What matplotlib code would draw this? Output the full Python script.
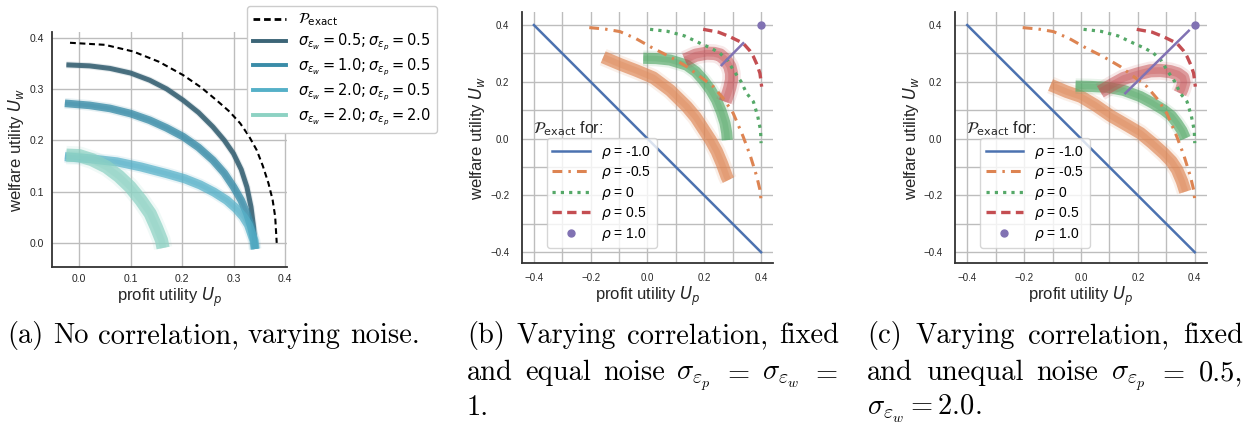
# ================================
# 1. IMPORT
# ================================
import matplotlib
matplotlib.use("Agg")
import matplotlib.pyplot as plt
from matplotlib.lines import Line2D
from matplotlib.ticker import MultipleLocator

plt.rcParams['font.family'] = ['Liberation Sans', 'DejaVu Sans']
plt.rcParams['mathtext.fontset'] = 'dejavusans'

# ================================
# 2. DATA
# ================================
# --- panel (a): no correlation, varying noise ---
exact_a_x = [-0.018, 0.05, 0.105, 0.155, 0.202, 0.237, 0.267, 0.292, 0.313, 0.33, 0.345, 0.357, 0.368, 0.376, 0.381, 0.384]
exact_a_y = [0.390, 0.386, 0.373, 0.353, 0.327, 0.303, 0.278, 0.256, 0.233, 0.208, 0.181, 0.150, 0.116, 0.084, 0.051, 0.0]

s05_05_x = [-0.025, 0.02, 0.06, 0.10, 0.137, 0.17, 0.202, 0.232, 0.26, 0.282, 0.30, 0.315, 0.326, 0.334, 0.339, 0.342]
s05_05_y = [0.347, 0.345, 0.340, 0.331, 0.317, 0.300, 0.278, 0.254, 0.226, 0.200, 0.174, 0.143, 0.109, 0.070, 0.031, -0.011]

s10_05_x = [-0.028, 0.02, 0.06, 0.10, 0.137, 0.17, 0.202, 0.232, 0.26, 0.282, 0.30, 0.315, 0.326, 0.334, 0.339, 0.342]
s10_05_y = [0.272, 0.268, 0.262, 0.252, 0.239, 0.224, 0.207, 0.186, 0.161, 0.136, 0.109, 0.083, 0.057, 0.031, 0.008, -0.012]

s20_05_x = [-0.028, 0.02, 0.073, 0.12, 0.17, 0.205, 0.235, 0.262, 0.287, 0.305, 0.319, 0.329, 0.335, 0.340, 0.342]
s20_05_y = [0.168, 0.164, 0.158, 0.148, 0.135, 0.125, 0.113, 0.099, 0.083, 0.067, 0.051, 0.035, 0.018, 0.004, -0.012]

s20_20_x = [-0.025, 0.0, 0.025, 0.053, 0.077, 0.099, 0.12, 0.138, 0.150, 0.160, 0.163]
s20_20_y = [0.171, 0.170, 0.162, 0.148, 0.130, 0.109, 0.083, 0.057, 0.030, 0.005, -0.010]

labels_a = [r"$\sigma_{\varepsilon_w} = 0.5; \sigma_{\varepsilon_p} = 0.5$",
            r"$\sigma_{\varepsilon_w} = 1.0; \sigma_{\varepsilon_p} = 0.5$",
            r"$\sigma_{\varepsilon_w} = 2.0; \sigma_{\varepsilon_p} = 0.5$",
            r"$\sigma_{\varepsilon_w} = 2.0; \sigma_{\varepsilon_p} = 2.0$"]

# --- exact frontiers for panels (b) and (c) ---
rho_m10_x = [-0.4, 0.4]
rho_m10_y = [0.4, -0.4]

rho_m05_x = [-0.205, -0.15, -0.097, -0.04, 0.020, 0.08, 0.138, 0.19, 0.232, 0.27, 0.302, 0.337, 0.362, 0.385, 0.396, 0.40]
rho_m05_y = [0.391, 0.386, 0.377, 0.352, 0.318, 0.288, 0.254, 0.215, 0.183, 0.138, 0.089, 0.007, -0.06, -0.134, -0.18, -0.216]

rho_0_x = [0.009, 0.07, 0.13, 0.185, 0.225, 0.255, 0.282, 0.302, 0.33, 0.349, 0.373, 0.388, 0.398, 0.40]
rho_0_y = [0.385, 0.378, 0.362, 0.336, 0.318, 0.301, 0.275, 0.242, 0.200, 0.160, 0.130, 0.080, 0.030, -0.016]

rho_05_x = [0.196, 0.25, 0.29, 0.337, 0.36, 0.373, 0.386, 0.396, 0.40, 0.402]
rho_05_y = [0.385, 0.375, 0.359, 0.336, 0.31, 0.289, 0.26, 0.230, 0.20, 0.183]

rho_10_x = [0.4]
rho_10_y = [0.4]

rho_labels = ["$\\rho$ = -1.0", "$\\rho$ = -0.5", "$\\rho$ = 0", "$\\rho$ = 0.5", "$\\rho$ = 1.0"]

# --- panel (b): equal noise ---
b_orange_x = [-0.156, -0.097, -0.04, 0.02, 0.08, 0.138, 0.17, 0.196, 0.222, 0.244, 0.263, 0.279, 0.285]
b_orange_y = [0.287, 0.262, 0.24, 0.215, 0.17, 0.113, 0.075, 0.035, -0.005, -0.045, -0.09, -0.134, -0.146]
b_green_x = [-0.015, 0.03, 0.079, 0.138, 0.17, 0.196, 0.222, 0.243, 0.26, 0.273, 0.279, 0.281]
b_green_y = [0.283, 0.282, 0.277, 0.259, 0.236, 0.207, 0.172, 0.136, 0.095, 0.054, 0.02, -0.005]
b_red_x = [0.132, 0.17, 0.208, 0.235, 0.255, 0.275, 0.29, 0.296, 0.296, 0.29, 0.284, 0.273]
b_red_y = [0.277, 0.294, 0.301, 0.300, 0.295, 0.278, 0.254, 0.230, 0.207, 0.180, 0.160, 0.130]
b_purple_x = [0.261, 0.337]
b_purple_y = [0.259, 0.336]

# --- panel (c): unequal noise ---
c_orange_x = [-0.107, -0.05, 0.0, 0.05, 0.105, 0.16, 0.209, 0.25, 0.291, 0.318, 0.338, 0.355, 0.367]
c_orange_y = [0.189, 0.165, 0.148, 0.118, 0.08, 0.048, 0.019, -0.015, -0.052, -0.08, -0.110, -0.15, -0.187]
c_green_x = [-0.019, 0.03, 0.092, 0.15, 0.209, 0.25, 0.291, 0.318, 0.338, 0.355, 0.367]
c_green_y = [0.185, 0.184, 0.181, 0.17, 0.148, 0.126, 0.101, 0.08, 0.054, 0.028, 0.001]
c_red_x = [0.068, 0.11, 0.15, 0.2, 0.244, 0.28, 0.314, 0.34, 0.358, 0.362, 0.355, 0.348]
c_red_y = [0.165, 0.19, 0.212, 0.228, 0.239, 0.24, 0.236, 0.228, 0.215, 0.198, 0.175, 0.16]
c_purple_x = [0.156, 0.379]
c_purple_y = [0.160, 0.380]

# caption lines, split into words (justified lines get spread to full width)
cap_a = [["(a)", "No", "correlation,", "varying", "noise."]]
cap_b = [["(b)", "Varying", "correlation,", "fixed"],
         ["and", "equal", "noise", r"$\sigma_{\varepsilon_p}$", "$=$", r"$\sigma_{\varepsilon_w}$", "$=$"],
         ["1."]]
cap_c = [["(c)", "Varying", "correlation,", "fixed"],
         ["and", "unequal", "noise", r"$\sigma_{\varepsilon_p}$", "$=$", "0.5,"],
         [r"$\sigma_{\varepsilon_w} = 2.0.$"]]

# ================================
# 3. STYLE
# ================================
W, H = 1247, 430
teal = ['#3c6577', '#3a8ca8', '#55b0c8', '#8dd2c3']
deep = {'blue': '#4c72b0', 'orange': '#dd8452', 'green': '#55a868', 'red': '#c44e52', 'purple': '#8172b3'}
txt = '#262626'


def px_axes(x0, y0, x1, y1):
    return fig.add_axes([x0 / W, 1 - y1 / H, (x1 - x0) / W, (y1 - y0) / H])


def style(ax, fs_tick, fs_lab, xpad, ypad):
    for s in ['top', 'right']:
        ax.spines[s].set_visible(False)
    for s in ['left', 'bottom']:
        ax.spines[s].set_color('#333333')
        ax.spines[s].set_linewidth(1.3)
    ax.tick_params(which='both', length=0, labelsize=fs_tick, colors=txt)
    ax.tick_params(axis='x', pad=xpad)
    ax.tick_params(axis='y', pad=ypad)
    ax.grid(which='both', color='#bdbdbd', lw=1.0)
    ax.set_axisbelow(True)
    ax.set_xlabel("profit utility $U_p$", fontsize=fs_lab, color=txt, labelpad=1)
    ax.set_ylabel("welfare utility $U_w$", fontsize=fs_lab, color=txt, labelpad=2)


def band(ax, x, y, color, width, alpha=0.65):
    # many noisy runs -> dense stroke with a faint fuzzy rim
    ax.plot(x, y, color=color, lw=width * 1.4, alpha=0.13, solid_capstyle='butt')
    ax.plot(x, y, color=color, lw=width, alpha=alpha, solid_capstyle='butt')
    ax.plot(x, y, color=color, lw=width * 0.5, alpha=0.3, solid_capstyle='butt')


def caption_line(words, x0, x1, yb, justify):
    r = fig.canvas.get_renderer()
    texts = [fig.text(0, 1 - yb / H, w, family='cmr10', math_fontfamily='cm',
                      fontsize=20.5, va='baseline', ha='left', color='black') for w in words]
    widths = [t.get_window_extent(r).width for t in texts]
    space = 0.33 * 20.5 * 100 / 72
    if justify and len(words) > 1:
        space = (x1 - x0 - sum(widths)) / (len(words) - 1)
    x = x0
    for t, w in zip(texts, widths):
        t.set_x(x / W)
        x += w + space


fig = plt.figure(figsize=(W / 100, H / 100), dpi=100)

# ================================
# 4. PANEL (a)
# ================================
ax = px_axes(52, 32, 287, 267)
style(ax, 7.5, 12, 5, 6)
ax.plot(exact_a_x, exact_a_y, color='black', lw=1.5, ls=(0, (2.8, 1.8)))
band(ax, s05_05_x, s05_05_y, teal[0], 3.6, 0.9)
band(ax, s10_05_x, s10_05_y, teal[1], 5.5, 0.78)
band(ax, s20_05_x, s20_05_y, teal[2], 6.5, 0.72)
band(ax, s20_20_x, s20_20_y, teal[3], 9.5, 0.72)
ax.set_xlim(-0.053, 0.404)
ax.set_ylim(-0.047, 0.411)
ax.set_xticks([0.0, 0.1, 0.2, 0.3, 0.4])
ax.set_yticks([0.0, 0.1, 0.2, 0.3, 0.4])

handles = [Line2D([], [], color='black', lw=2, ls=(0, (2.4, 1.4)))]
handles += [Line2D([], [], color=c, lw=2.8) for c in teal]
leg = ax.legend(handles, [r"$\mathcal{P}_\mathrm{exact}$"] + labels_a,
                loc='upper left', bbox_to_anchor=(0.83, 1.111), borderaxespad=0,
                fontsize=10.5, handlelength=2.3, labelspacing=0.25, frameon=True,
                fancybox=True, edgecolor='#cccccc', framealpha=1.0)
leg.set_zorder(10)

# ================================
# 5. PANELS (b) and (c)
# ================================
panels = [
    ((521.7, 12, 773, 263.3), b_orange_x, b_orange_y, b_green_x, b_green_y, b_red_x, b_red_y, b_purple_x, b_purple_y),
    ((955, 12, 1206.7, 263.3), c_orange_x, c_orange_y, c_green_x, c_green_y, c_red_x, c_red_y, c_purple_x, c_purple_y),
]
for box, ox, oy, gx, gy, rx, ry, ppx, ppy in panels:
    ax = px_axes(*box)
    style(ax, 7, 12, 7, 9)
    band(ax, ox, oy, deep['orange'], 9)
    band(ax, gx, gy, deep['green'], 8)
    band(ax, rx, ry, deep['red'], 9.5, 0.5)
    l1, = ax.plot(rho_m10_x, rho_m10_y, color=deep['blue'], lw=1.8)
    l2, = ax.plot(rho_m05_x, rho_m05_y, color=deep['orange'], lw=2.2, ls=(0, (3.2, 2.0, 0.8, 2.0)))
    l3, = ax.plot(rho_0_x, rho_0_y, color=deep['green'], lw=2.3, ls=(0, (1, 1.6)))
    l4, = ax.plot(rho_05_x, rho_05_y, color=deep['red'], lw=2.4, ls=(0, (2.8, 1.6)))
    l5, = ax.plot(rho_10_x, rho_10_y, 'o', color=deep['purple'], ms=5)
    ax.plot(ppx, ppy, color=deep['purple'], lw=1.8)
    ax.set_xlim(-0.443, 0.442)
    ax.set_ylim(-0.439, 0.446)
    ax.set_xticks([-0.4, -0.2, 0.0, 0.2, 0.4])
    ax.set_yticks([-0.4, -0.2, 0.0, 0.2, 0.4])
    ax.xaxis.set_minor_locator(MultipleLocator(0.1))
    ax.yaxis.set_minor_locator(MultipleLocator(0.1))
    ax.text(0.045, 0.535, r"$\mathcal{P}_\mathrm{exact}$ for:", transform=ax.transAxes,
            fontsize=11.5, va='center', color=txt)
    ax.legend([l1, l2, l3, l4, l5], rho_labels, loc='lower left', bbox_to_anchor=(0.10, 0.06),
              borderaxespad=0, fontsize=10, handlelength=2.7, labelspacing=0.25,
              numpoints=1, edgecolor='#cccccc', framealpha=0.8)

# ================================
# 6. CAPTIONS
# ================================
baselines = [343, 380, 415]
for lines, x0, x1 in [(cap_a, 7, 418), (cap_b, 467, 839), (cap_c, 867, 1243)]:
    for i, (words, yb) in enumerate(zip(lines, baselines)):
        caption_line(words, x0, x1, yb, justify=(i < len(lines) - 1))

fig.savefig("out.png", dpi=100)
